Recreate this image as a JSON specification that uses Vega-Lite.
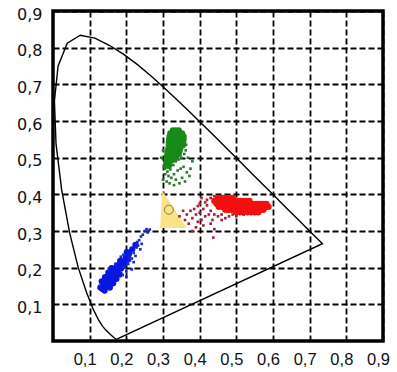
{
  "$schema": "https://vega.github.io/schema/vega-lite/v6.json",
  "width": 330,
  "height": 330,
  "autosize": {"type": "none"},
  "padding": {"left": 53, "top": 11, "right": 14, "bottom": 31},
  "background": "white",
  "config": {
    "view": {"stroke": "#000", "strokeWidth": 3.5},
    "axis": {
      "grid": true, "gridColor": "#000", "gridDash": [6, 3], "gridWidth": 1.8, "gridOpacity": 1,
      "domain": false, "ticks": false, "labelFontSize": 16, "labelFlush": false, "labelOverlap": false,
      "labelColor": "#111", "zindex": 1
    }
  },
  "datasets": {
    "locus": [
      {"o":0,"x":0.1741,"y":0.0050},{"o":1,"x":0.1738,"y":0.0049},{"o":2,"x":0.1733,"y":0.0048},
      {"o":3,"x":0.1726,"y":0.0048},{"o":4,"x":0.1714,"y":0.0051},{"o":5,"x":0.1689,"y":0.0069},
      {"o":6,"x":0.1644,"y":0.0109},{"o":7,"x":0.1566,"y":0.0177},{"o":8,"x":0.1440,"y":0.0297},
      {"o":9,"x":0.1355,"y":0.0399},{"o":10,"x":0.1241,"y":0.0578},{"o":11,"x":0.1096,"y":0.0868},
      {"o":12,"x":0.0913,"y":0.1327},{"o":13,"x":0.0687,"y":0.2007},{"o":14,"x":0.0454,"y":0.2950},
      {"o":15,"x":0.0235,"y":0.4127},{"o":16,"x":0.0082,"y":0.5384},{"o":17,"x":0.0039,"y":0.6548},
      {"o":18,"x":0.0139,"y":0.7502},{"o":19,"x":0.0389,"y":0.8120},{"o":20,"x":0.0743,"y":0.8338},
      {"o":21,"x":0.1142,"y":0.8262},{"o":22,"x":0.1547,"y":0.8059},{"o":23,"x":0.1929,"y":0.7816},
      {"o":24,"x":0.2296,"y":0.7543},{"o":25,"x":0.2658,"y":0.7243},{"o":26,"x":0.3016,"y":0.6923},
      {"o":27,"x":0.3373,"y":0.6589},{"o":28,"x":0.3731,"y":0.6245},{"o":29,"x":0.4087,"y":0.5896},
      {"o":30,"x":0.4441,"y":0.5547},{"o":31,"x":0.4788,"y":0.5202},{"o":32,"x":0.5125,"y":0.4866},
      {"o":33,"x":0.5448,"y":0.4544},{"o":34,"x":0.5752,"y":0.4242},{"o":35,"x":0.6029,"y":0.3965},
      {"o":36,"x":0.6270,"y":0.3725},{"o":37,"x":0.6482,"y":0.3514},{"o":38,"x":0.6658,"y":0.3340},
      {"o":39,"x":0.6915,"y":0.3083},{"o":40,"x":0.7079,"y":0.2920},{"o":41,"x":0.7190,"y":0.2809},
      {"o":42,"x":0.7260,"y":0.2740},{"o":43,"x":0.7347,"y":0.2653},{"o":44,"x":0.1741,"y":0.0050}
    ],
    "tri": [
      {"ty":0.308,"tx":0.292,"tx2":0.365},
      {"ty":0.410,"tx":0.298,"tx2":0.298}
    ],
    "wp": [{"x":0.316,"y":0.358}],
    "pts": [
      {"x":0.327,"y":0.574,"c":"g","k":"core"},{"x":0.335,"y":0.574,"c":"g","k":"core"},{"x":0.343,"y":0.574,"c":"g","k":"core"},
      {"x":0.320,"y":0.566,"c":"g","k":"core"},{"x":0.328,"y":0.566,"c":"g","k":"core"},{"x":0.336,"y":0.566,"c":"g","k":"core"},{"x":0.344,"y":0.566,"c":"g","k":"core"},{"x":0.352,"y":0.566,"c":"g","k":"core"},
      {"x":0.318,"y":0.558,"c":"g","k":"core"},{"x":0.326,"y":0.558,"c":"g","k":"core"},{"x":0.334,"y":0.558,"c":"g","k":"core"},{"x":0.342,"y":0.558,"c":"g","k":"core"},{"x":0.350,"y":0.558,"c":"g","k":"core"},{"x":0.356,"y":0.558,"c":"g","k":"core"},
      {"x":0.317,"y":0.550,"c":"g","k":"core"},{"x":0.325,"y":0.550,"c":"g","k":"core"},{"x":0.333,"y":0.550,"c":"g","k":"core"},{"x":0.341,"y":0.550,"c":"g","k":"core"},{"x":0.349,"y":0.550,"c":"g","k":"core"},{"x":0.356,"y":0.550,"c":"g","k":"core"},
      {"x":0.316,"y":0.542,"c":"g","k":"core"},{"x":0.324,"y":0.542,"c":"g","k":"core"},{"x":0.332,"y":0.542,"c":"g","k":"core"},{"x":0.340,"y":0.542,"c":"g","k":"core"},{"x":0.348,"y":0.542,"c":"g","k":"core"},{"x":0.355,"y":0.542,"c":"g","k":"core"},
      {"x":0.316,"y":0.534,"c":"g","k":"core"},{"x":0.324,"y":0.534,"c":"g","k":"core"},{"x":0.332,"y":0.534,"c":"g","k":"core"},{"x":0.340,"y":0.534,"c":"g","k":"core"},{"x":0.348,"y":0.534,"c":"g","k":"core"},{"x":0.354,"y":0.534,"c":"g","k":"core"},
      {"x":0.315,"y":0.526,"c":"g","k":"core"},{"x":0.323,"y":0.526,"c":"g","k":"core"},{"x":0.331,"y":0.526,"c":"g","k":"core"},{"x":0.339,"y":0.526,"c":"g","k":"core"},{"x":0.347,"y":0.526,"c":"g","k":"core"},
      {"x":0.314,"y":0.518,"c":"g","k":"core"},{"x":0.322,"y":0.518,"c":"g","k":"core"},{"x":0.330,"y":0.518,"c":"g","k":"core"},{"x":0.338,"y":0.518,"c":"g","k":"core"},{"x":0.345,"y":0.518,"c":"g","k":"core"},
      {"x":0.312,"y":0.510,"c":"g","k":"core"},{"x":0.320,"y":0.510,"c":"g","k":"core"},{"x":0.328,"y":0.510,"c":"g","k":"core"},{"x":0.336,"y":0.510,"c":"g","k":"core"},{"x":0.343,"y":0.510,"c":"g","k":"core"},
      {"x":0.311,"y":0.502,"c":"g","k":"core"},{"x":0.319,"y":0.502,"c":"g","k":"core"},{"x":0.327,"y":0.502,"c":"g","k":"core"},{"x":0.335,"y":0.502,"c":"g","k":"core"},
      {"x":0.310,"y":0.494,"c":"g","k":"core"},{"x":0.318,"y":0.494,"c":"g","k":"core"},{"x":0.326,"y":0.494,"c":"g","k":"core"},
      {"x":0.309,"y":0.486,"c":"g","k":"core"},{"x":0.317,"y":0.486,"c":"g","k":"core"},
      {"x":0.308,"y":0.478,"c":"g","k":"core"},{"x":0.316,"y":0.478,"c":"g","k":"core"},
      {"x":0.305,"y":0.470,"c":"gs","k":"dot"},{"x":0.312,"y":0.462,"c":"gs","k":"dot"},{"x":0.320,"y":0.468,"c":"gs","k":"dot"},{"x":0.328,"y":0.480,"c":"gs","k":"dot"},
      {"x":0.335,"y":0.490,"c":"gs","k":"dot"},{"x":0.342,"y":0.495,"c":"gs","k":"dot"},{"x":0.350,"y":0.500,"c":"gs","k":"dot"},{"x":0.358,"y":0.510,"c":"gs","k":"dot"},
      {"x":0.362,"y":0.520,"c":"gs","k":"dot"},{"x":0.363,"y":0.535,"c":"gs","k":"dot"},{"x":0.306,"y":0.455,"c":"gs","k":"dot"},{"x":0.315,"y":0.450,"c":"gs","k":"dot"},
      {"x":0.323,"y":0.445,"c":"gs","k":"dot"},{"x":0.330,"y":0.455,"c":"gs","k":"dot"},{"x":0.340,"y":0.465,"c":"gs","k":"dot"},{"x":0.348,"y":0.470,"c":"gs","k":"dot"},
      {"x":0.356,"y":0.475,"c":"gs","k":"dot"},{"x":0.365,"y":0.460,"c":"gs","k":"dot"},{"x":0.372,"y":0.450,"c":"gs","k":"dot"},{"x":0.300,"y":0.440,"c":"gs","k":"dot"},
      {"x":0.310,"y":0.435,"c":"gs","k":"dot"},{"x":0.318,"y":0.430,"c":"gs","k":"dot"},{"x":0.335,"y":0.440,"c":"gs","k":"dot"},{"x":0.352,"y":0.445,"c":"gs","k":"dot"},
      {"x":0.360,"y":0.435,"c":"gs","k":"dot"},{"x":0.375,"y":0.470,"c":"gs","k":"dot"},{"x":0.380,"y":0.490,"c":"gs","k":"dot"},{"x":0.295,"y":0.500,"c":"gs","k":"dot"},
      {"x":0.300,"y":0.520,"c":"gs","k":"dot"},{"x":0.345,"y":0.430,"c":"gs","k":"dot"},{"x":0.330,"y":0.425,"c":"gs","k":"dot"},{"x":0.368,"y":0.500,"c":"gs","k":"dot"},

      {"x":0.450,"y":0.390,"c":"r","k":"core"},{"x":0.458,"y":0.390,"c":"r","k":"core"},{"x":0.466,"y":0.390,"c":"r","k":"core"},{"x":0.474,"y":0.390,"c":"r","k":"core"},{"x":0.482,"y":0.390,"c":"r","k":"core"},{"x":0.490,"y":0.390,"c":"r","k":"core"},
      {"x":0.440,"y":0.382,"c":"r","k":"core"},{"x":0.448,"y":0.382,"c":"r","k":"core"},{"x":0.456,"y":0.382,"c":"r","k":"core"},{"x":0.464,"y":0.382,"c":"r","k":"core"},{"x":0.472,"y":0.382,"c":"r","k":"core"},{"x":0.480,"y":0.382,"c":"r","k":"core"},{"x":0.488,"y":0.382,"c":"r","k":"core"},{"x":0.496,"y":0.382,"c":"r","k":"core"},{"x":0.504,"y":0.382,"c":"r","k":"core"},{"x":0.512,"y":0.382,"c":"r","k":"core"},{"x":0.520,"y":0.382,"c":"r","k":"core"},{"x":0.528,"y":0.382,"c":"r","k":"core"},{"x":0.536,"y":0.382,"c":"r","k":"core"},
      {"x":0.446,"y":0.374,"c":"r","k":"core"},{"x":0.454,"y":0.374,"c":"r","k":"core"},{"x":0.462,"y":0.374,"c":"r","k":"core"},{"x":0.470,"y":0.374,"c":"r","k":"core"},{"x":0.478,"y":0.374,"c":"r","k":"core"},{"x":0.486,"y":0.374,"c":"r","k":"core"},{"x":0.494,"y":0.374,"c":"r","k":"core"},{"x":0.502,"y":0.374,"c":"r","k":"core"},{"x":0.510,"y":0.374,"c":"r","k":"core"},{"x":0.518,"y":0.374,"c":"r","k":"core"},{"x":0.526,"y":0.374,"c":"r","k":"core"},{"x":0.534,"y":0.374,"c":"r","k":"core"},{"x":0.542,"y":0.374,"c":"r","k":"core"},{"x":0.550,"y":0.374,"c":"r","k":"core"},{"x":0.558,"y":0.374,"c":"r","k":"core"},{"x":0.566,"y":0.374,"c":"r","k":"core"},{"x":0.574,"y":0.374,"c":"r","k":"core"},{"x":0.582,"y":0.374,"c":"r","k":"core"},
      {"x":0.452,"y":0.366,"c":"r","k":"core"},{"x":0.460,"y":0.366,"c":"r","k":"core"},{"x":0.468,"y":0.366,"c":"r","k":"core"},{"x":0.476,"y":0.366,"c":"r","k":"core"},{"x":0.484,"y":0.366,"c":"r","k":"core"},{"x":0.492,"y":0.366,"c":"r","k":"core"},{"x":0.500,"y":0.366,"c":"r","k":"core"},{"x":0.508,"y":0.366,"c":"r","k":"core"},{"x":0.516,"y":0.366,"c":"r","k":"core"},{"x":0.524,"y":0.366,"c":"r","k":"core"},{"x":0.532,"y":0.366,"c":"r","k":"core"},{"x":0.540,"y":0.366,"c":"r","k":"core"},{"x":0.548,"y":0.366,"c":"r","k":"core"},{"x":0.556,"y":0.366,"c":"r","k":"core"},{"x":0.564,"y":0.366,"c":"r","k":"core"},{"x":0.572,"y":0.366,"c":"r","k":"core"},{"x":0.580,"y":0.366,"c":"r","k":"core"},{"x":0.588,"y":0.366,"c":"r","k":"core"},
      {"x":0.470,"y":0.358,"c":"r","k":"core"},{"x":0.478,"y":0.358,"c":"r","k":"core"},{"x":0.486,"y":0.358,"c":"r","k":"core"},{"x":0.494,"y":0.358,"c":"r","k":"core"},{"x":0.502,"y":0.358,"c":"r","k":"core"},{"x":0.510,"y":0.358,"c":"r","k":"core"},{"x":0.518,"y":0.358,"c":"r","k":"core"},{"x":0.526,"y":0.358,"c":"r","k":"core"},{"x":0.534,"y":0.358,"c":"r","k":"core"},{"x":0.542,"y":0.358,"c":"r","k":"core"},{"x":0.550,"y":0.358,"c":"r","k":"core"},{"x":0.558,"y":0.358,"c":"r","k":"core"},{"x":0.566,"y":0.358,"c":"r","k":"core"},{"x":0.574,"y":0.358,"c":"r","k":"core"},
      {"x":0.500,"y":0.351,"c":"r","k":"core"},{"x":0.510,"y":0.351,"c":"r","k":"core"},{"x":0.520,"y":0.351,"c":"r","k":"core"},{"x":0.530,"y":0.351,"c":"r","k":"core"},{"x":0.540,"y":0.351,"c":"r","k":"core"},{"x":0.550,"y":0.351,"c":"r","k":"core"},{"x":0.560,"y":0.351,"c":"r","k":"core"},
      {"x":0.380,"y":0.335,"c":"rs","k":"dot"},{"x":0.390,"y":0.345,"c":"rs","k":"dot"},{"x":0.400,"y":0.350,"c":"rs","k":"dot"},{"x":0.410,"y":0.360,"c":"rs","k":"dot"},
      {"x":0.420,"y":0.370,"c":"rs","k":"dot"},{"x":0.430,"y":0.355,"c":"rs","k":"dot"},{"x":0.395,"y":0.325,"c":"rs","k":"dot"},{"x":0.405,"y":0.330,"c":"rs","k":"dot"},
      {"x":0.415,"y":0.340,"c":"rs","k":"dot"},{"x":0.425,"y":0.345,"c":"rs","k":"dot"},{"x":0.435,"y":0.330,"c":"rs","k":"dot"},{"x":0.440,"y":0.345,"c":"rs","k":"dot"},
      {"x":0.450,"y":0.340,"c":"rs","k":"dot"},{"x":0.460,"y":0.345,"c":"rs","k":"dot"},{"x":0.470,"y":0.335,"c":"rs","k":"dot"},{"x":0.385,"y":0.360,"c":"rs","k":"dot"},
      {"x":0.400,"y":0.375,"c":"rs","k":"dot"},{"x":0.420,"y":0.385,"c":"rs","k":"dot"},{"x":0.430,"y":0.390,"c":"rs","k":"dot"},{"x":0.440,"y":0.395,"c":"rs","k":"dot"},
      {"x":0.370,"y":0.320,"c":"rs","k":"dot"},{"x":0.360,"y":0.330,"c":"rs","k":"dot"},{"x":0.365,"y":0.345,"c":"rs","k":"dot"},{"x":0.375,"y":0.355,"c":"rs","k":"dot"},
      {"x":0.390,"y":0.310,"c":"rs","k":"dot"},{"x":0.410,"y":0.315,"c":"rs","k":"dot"},{"x":0.430,"y":0.320,"c":"rs","k":"dot"},{"x":0.480,"y":0.340,"c":"rs","k":"dot"},
      {"x":0.490,"y":0.345,"c":"rs","k":"dot"},{"x":0.437,"y":0.282,"c":"rs","k":"dot"},{"x":0.440,"y":0.305,"c":"rs","k":"dot"},{"x":0.355,"y":0.355,"c":"rs","k":"dot"},
      {"x":0.345,"y":0.340,"c":"rs","k":"dot"},{"x":0.380,"y":0.300,"c":"rs","k":"dot"},{"x":0.460,"y":0.330,"c":"rs","k":"dot"},{"x":0.500,"y":0.340,"c":"rs","k":"dot"},
      {"x":0.520,"y":0.345,"c":"rs","k":"dot"},{"x":0.405,"y":0.390,"c":"rs","k":"dot"},{"x":0.415,"y":0.378,"c":"rs","k":"dot"},{"x":0.395,"y":0.368,"c":"rs","k":"dot"},

      {"x":0.135,"y":0.142,"c":"b","k":"core"},{"x":0.1406,"y":0.1378,"c":"b","k":"core"},{"x":0.1294,"y":0.1462,"c":"b","k":"core"},
      {"x":0.144,"y":0.154,"c":"b","k":"core"},{"x":0.1496,"y":0.1498,"c":"b","k":"core"},{"x":0.1384,"y":0.1582,"c":"b","k":"core"},{"x":0.155,"y":0.1456,"c":"b","k":"core"},{"x":0.133,"y":0.1624,"c":"b","k":"core"},
      {"x":0.153,"y":0.166,"c":"b","k":"core"},{"x":0.1586,"y":0.1618,"c":"b","k":"core"},{"x":0.1474,"y":0.1702,"c":"b","k":"core"},{"x":0.164,"y":0.1576,"c":"b","k":"core"},{"x":0.142,"y":0.1744,"c":"b","k":"core"},
      {"x":0.162,"y":0.178,"c":"b","k":"core"},{"x":0.1676,"y":0.1738,"c":"b","k":"core"},{"x":0.1564,"y":0.1822,"c":"b","k":"core"},{"x":0.173,"y":0.1696,"c":"b","k":"core"},{"x":0.151,"y":0.1864,"c":"b","k":"core"},
      {"x":0.171,"y":0.190,"c":"b","k":"core"},{"x":0.1766,"y":0.1858,"c":"b","k":"core"},{"x":0.1654,"y":0.1942,"c":"b","k":"core"},{"x":0.182,"y":0.1816,"c":"b","k":"core"},{"x":0.160,"y":0.1984,"c":"b","k":"core"},
      {"x":0.180,"y":0.202,"c":"b","k":"core"},{"x":0.1856,"y":0.1978,"c":"b","k":"core"},{"x":0.1744,"y":0.2062,"c":"b","k":"core"},
      {"x":0.189,"y":0.214,"c":"b","k":"core"},{"x":0.1946,"y":0.2098,"c":"b","k":"core"},{"x":0.1834,"y":0.2182,"c":"b","k":"core"},
      {"x":0.198,"y":0.226,"c":"b","k":"core"},{"x":0.2036,"y":0.2218,"c":"b","k":"core"},
      {"x":0.207,"y":0.238,"c":"b","k":"core"},{"x":0.2014,"y":0.2422,"c":"b","k":"core"},
      {"x":0.216,"y":0.250,"c":"b","k":"core"},{"x":0.225,"y":0.262,"c":"b","k":"core"},
      {"x":0.230,"y":0.270,"c":"bs","k":"dot"},{"x":0.235,"y":0.275,"c":"bs","k":"dot"},{"x":0.240,"y":0.285,"c":"bs","k":"dot"},{"x":0.245,"y":0.290,"c":"bs","k":"dot"},
      {"x":0.250,"y":0.300,"c":"bs","k":"dot"},{"x":0.255,"y":0.305,"c":"bs","k":"dot"},{"x":0.260,"y":0.300,"c":"bs","k":"dot"},{"x":0.228,"y":0.255,"c":"bs","k":"dot"},
      {"x":0.220,"y":0.240,"c":"bs","k":"dot"},{"x":0.215,"y":0.225,"c":"bs","k":"dot"},{"x":0.210,"y":0.220,"c":"bs","k":"dot"},{"x":0.195,"y":0.200,"c":"bs","k":"dot"},
      {"x":0.200,"y":0.190,"c":"bs","k":"dot"},{"x":0.205,"y":0.210,"c":"bs","k":"dot"},{"x":0.220,"y":0.215,"c":"bs","k":"dot"},{"x":0.210,"y":0.230,"c":"bs","k":"dot"},
      {"x":0.192,"y":0.235,"c":"bs","k":"dot"},{"x":0.185,"y":0.230,"c":"bs","k":"dot"},{"x":0.170,"y":0.210,"c":"bs","k":"dot"},{"x":0.190,"y":0.180,"c":"bs","k":"dot"},
      {"x":0.232,"y":0.260,"c":"bs","k":"dot"},{"x":0.238,"y":0.250,"c":"bs","k":"dot"},{"x":0.242,"y":0.265,"c":"bs","k":"dot"},{"x":0.264,"y":0.304,"c":"bs","k":"dot"},
      {"x":0.258,"y":0.296,"c":"bs","k":"dot"},{"x":0.215,"y":0.195,"c":"bs","k":"dot"},{"x":0.200,"y":0.175,"c":"bs","k":"dot"},{"x":0.225,"y":0.232,"c":"bs","k":"dot"}
    ]
  },
  "layer": [
    {
      "data": {"name": "tri"},
      "mark": {"type": "area", "orient": "horizontal", "color": "#f8e388", "opacity": 1},
      "encoding": {
        "y": {"field": "ty", "type": "quantitative", "scale": {"domain": [0, 0.9], "nice": false, "zero": false},
              "axis": {"values": [0.1,0.2,0.3,0.4,0.5,0.6,0.7,0.8,0.9], "labelExpr": "replace(format(datum.value,'.1f'),'.',',')", "labelFont": "DejaVu Sans", "labelFontSize": 16, "labelPadding": 11, "labelOffset": 3}, "title": null},
        "x": {"field": "tx", "type": "quantitative", "scale": {"domain": [0, 0.9], "nice": false, "zero": false},
              "axis": {"values": [0.1,0.2,0.3,0.4,0.5,0.6,0.7,0.8,0.9], "labelExpr": "replace(format(datum.value,'.1f'),'.',',')", "labelFont": "Liberation Sans", "labelFontSize": 16.5, "labelPadding": 10, "labelOffset": -5}, "title": null},
        "x2": {"field": "tx2"}
      }
    },
    {
      "data": {"name": "wp"},
      "mark": {"type": "point", "shape": "circle", "filled": false, "size": 80, "stroke": "#8a7a3a", "strokeWidth": 1, "opacity": 1},
      "encoding": {
        "x": {"field": "x", "type": "quantitative", "title": null},
        "y": {"field": "y", "type": "quantitative", "title": null}
      }
    },
    {
      "data": {"name": "pts"},
      "mark": {"type": "point", "filled": true, "opacity": 1, "strokeWidth": 0},
      "encoding": {
        "x": {"field": "x", "type": "quantitative", "title": null},
        "y": {"field": "y", "type": "quantitative", "title": null},
        "color": {"field": "c", "type": "nominal", "legend": null,
                  "scale": {"domain": ["g","gs","r","rs","b","bs"], "range": ["#178a17","#2f7a2f","#f41010","#a8203c","#0818e0","#1a2ac8"]}},
        "size": {"field": "k", "type": "nominal", "legend": null, "scale": {"domain": ["core","dot"], "range": [40, 7]}},
        "shape": {"field": "k", "type": "nominal", "legend": null, "scale": {"domain": ["core","dot"], "range": ["circle","square"]}}
      }
    },
    {
      "data": {"name": "locus"},
      "mark": {"type": "line", "color": "#000", "strokeWidth": 1.4},
      "encoding": {
        "x": {"field": "x", "type": "quantitative", "title": null},
        "y": {"field": "y", "type": "quantitative", "title": null},
        "order": {"field": "o", "type": "quantitative"}
      }
    }
  ]
}
